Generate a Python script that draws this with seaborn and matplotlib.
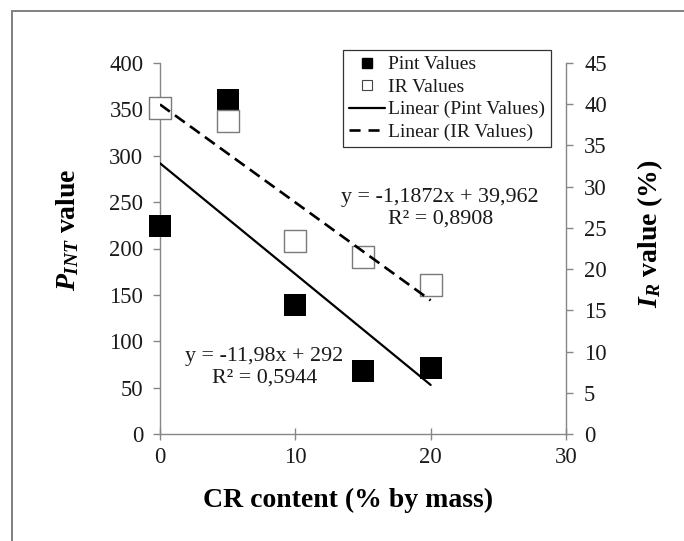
import numpy as np
import pandas as pd
import seaborn as sns
import matplotlib.pyplot as plt
from matplotlib.lines import Line2D

# ---- data ----
cr_content = [0, 5, 10, 15, 20]
pint_values = [224, 360, 139, 67.5, 71.5]
ir_values = [39.5, 38.0, 23.4, 21.5, 18.05]
x_ticks = [0, 10, 20, 30]
pint_ticks = [0, 50, 100, 150, 200, 250, 300, 350, 400]
ir_ticks = [0, 5, 10, 15, 20, 25, 30, 35, 40, 45]
legend_labels = ["Pint Values", "IR Values", "Linear (Pint Values)", "Linear (IR Values)"]
pint_eq = "y = -11,98x + 292\nR² = 0,5944"
ir_eq = "y = -1,1872x + 39,962\nR² = 0,8908"
x_label = "CR content (% by mass)"
left_label = r"$P_{INT}$ value"
right_label = r"$I_{R}$ value (%)"

sns.set_theme(style="white")
plt.rcParams["font.family"] = ["Liberation Serif", "DejaVu Serif"]
plt.rcParams["mathtext.fontset"] = "custom"
plt.rcParams["mathtext.it"] = "Liberation Serif:italic:bold"
plt.rcParams["mathtext.rm"] = "Liberation Serif:bold"
plt.rcParams["mathtext.bf"] = "Liberation Serif:bold"

df = pd.DataFrame({"cr": cr_content, "pint": pint_values, "ir": ir_values})

W, H = 684, 541
fig = plt.figure(figsize=(W / 100, H / 100), dpi=100)
fig.patch.set_facecolor("white")
ax = fig.add_axes([160 / W, 1 - 434 / H, (566 - 160) / W, (434 - 63) / H])
ax2 = ax.twinx()

spine_col = "#868686"
tick_txt = "#1a1a1a"
sq = 15.8  # square side in points

# Pint values (left axis)
sns.scatterplot(data=df, x="cr", y="pint", marker="s", s=sq ** 2, color="black",
                edgecolor="black", linewidth=0, ax=ax, zorder=3, legend=False, clip_on=False)
sns.regplot(data=df, x="cr", y="pint", scatter=False, ci=None, truncate=True, ax=ax,
            line_kws=dict(color="black", lw=1.6, zorder=4))

# IR values (right axis)
sns.scatterplot(data=df, x="cr", y="ir", marker="s", s=sq ** 2, facecolor="white",
                edgecolor="#7a7a7a", linewidth=1.0, ax=ax2, zorder=3, legend=False, clip_on=False)
sns.regplot(data=df, x="cr", y="ir", scatter=False, ci=None, truncate=True, ax=ax2,
            line_kws=dict(color="black", lw=1.9, dashes=(4.6, 2.4), zorder=4))

ax.set_xlim(0, 30)
ax.set_ylim(0, 400)
ax2.set_ylim(0, 45)
ax.set_xticks(x_ticks)
ax.set_yticks(pint_ticks)
ax2.set_yticks(ir_ticks)

for a in (ax, ax2):
    for s in a.spines.values():
        s.set_color(spine_col)
        s.set_linewidth(1.0)
    a.spines["top"].set_visible(False)
ax.spines["right"].set_visible(False)
ax2.spines["left"].set_visible(False)
ax2.spines["bottom"].set_visible(False)

ax.tick_params(axis="y", direction="out", length=5, width=1, color=spine_col,
               labelsize=16.3, labelcolor=tick_txt, pad=7, left=True)
ax.tick_params(axis="x", direction="inout", length=9, width=1, color=spine_col,
               labelsize=16.3, labelcolor=tick_txt, pad=5, bottom=True)
ax2.tick_params(axis="y", direction="out", length=5, width=1, color=spine_col,
                labelsize=16.3, labelcolor=tick_txt, pad=8, right=True)

ax.set_xlabel(x_label, fontsize=20, fontweight="bold", color="black")
ax.xaxis.set_label_coords(0.463, -0.145)
ax.set_ylabel(left_label, fontsize=20, fontweight="bold", color="black")
ax.yaxis.set_label_coords(-0.195, 0.55)
ax2.set_ylabel(right_label, fontsize=20, fontweight="bold", color="black", rotation=90)
ax2.yaxis.set_label_coords(1.17, 0.54)

# trendline equations
ax.text(7.7, 72, pint_eq, ha="center", va="center", fontsize=15.8, color=tick_txt, zorder=5)
ax.text(20.7, 243, ir_eq, ha="center", va="center", fontsize=15.8, color=tick_txt, zorder=5)

# legend
handles = [
    Line2D([], [], ls="none", marker="s", markersize=7, markerfacecolor="black", markeredgecolor="black"),
    Line2D([], [], ls="none", marker="s", markersize=7, markerfacecolor="white", markeredgecolor="#444444", markeredgewidth=0.8),
    Line2D([], [], color="black", lw=1.6),
    Line2D([], [], color="black", lw=1.9, dashes=(4.2, 3.0)),
]
leg = ax2.legend(handles, legend_labels, loc="upper left",
                 bbox_to_anchor=(343 / W, 1 - 50 / H), bbox_transform=fig.transFigure,
                 borderaxespad=0, fontsize=14, frameon=True, fancybox=False,
                 framealpha=1, edgecolor="#333333", handlelength=1.85, handletextpad=0.15,
                 labelspacing=0.25, borderpad=0.3)
leg.get_frame().set_linewidth(0.9)
for t in leg.get_texts():
    t.set_color(tick_txt)

# outer frame lines (top and left)
fig.add_artist(Line2D([12 / W, 1], [1 - 11 / H, 1 - 11 / H], transform=fig.transFigure,
                      color="#808080", lw=1.4))
fig.add_artist(Line2D([12 / W, 12 / W], [0, 1 - 11 / H], transform=fig.transFigure,
                      color="#808080", lw=1.4))

fig.savefig("out.png", dpi=100, facecolor="white")
